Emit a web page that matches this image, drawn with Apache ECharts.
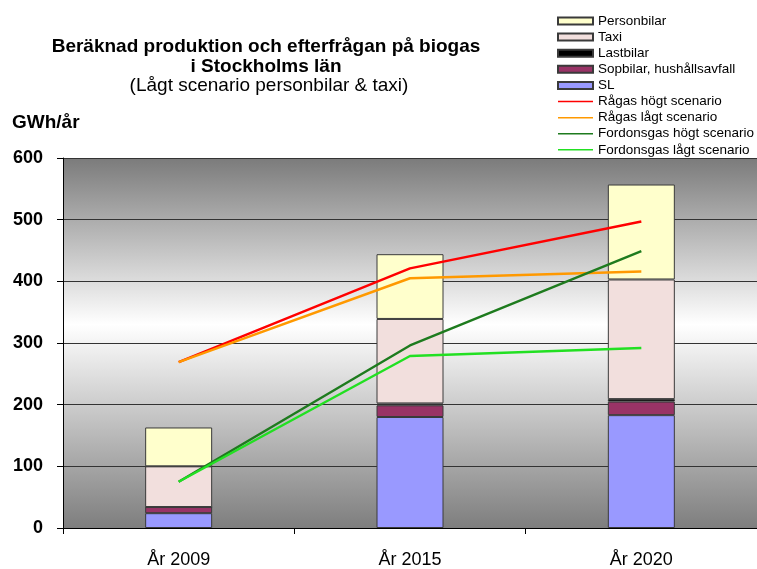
<!DOCTYPE html>
<html>
<head>
<meta charset="utf-8">
<script src="https://cdn.jsdelivr.net/npm/echarts@6/dist/echarts.min.js"></script>
<style>html,body{margin:0;padding:0;background:#fff}#c{width:757px;height:569px}</style>
</head>
<body>
<div id="c"></div>
<script>
var categories = ['År 2009', 'År 2015', 'År 2020'];
var yTicks = [0, 100, 200, 300, 400, 500, 600];

var sl = [24, 180, 183];
var sopbilar = [10, 19, 22];
var lastbilar = [0, 3, 4];
var taxi = [66, 137, 194];
var personbilar = [63, 105, 154];

var ragasHogt = [269, 421, 497];
var ragasLagt = [269, 405, 416];
var fordonsgasHogt = [75, 296, 449];
var fordonsgasLagt = [75, 279, 292];

var FONT = '"Liberation Sans", Arial, sans-serif';
var LINE_ICON = 'path://M0,0 L0.01,0 L0,0.01 Z M0,2.8 L35,2.8 L35,4.3 L0,4.3 Z M35,7 L34.99,7 L35,6.99 Z';
var chart = echarts.init(document.getElementById('c'), null, {renderer: 'canvas'});

function bar(name, data, color) {
  return {
    name: name, type: 'bar', stack: 'total', data: data,
    barWidth: 67,
    itemStyle: {color: color, borderColor: '#3a3a3a', borderWidth: 1},
    emphasis: {disabled: true}
  };
}
function line(name, data, color) {
  return {
    name: name, type: 'line', data: data, symbol: 'none',
    lineStyle: {color: color, width: 2.4},
    itemStyle: {color: color},
    z: 5, emphasis: {disabled: true}
  };
}

var barNames = ['Personbilar', 'Taxi', 'Lastbilar', 'Sopbilar, hushållsavfall', 'SL'];
var lineNames = ['Rågas högt scenario', 'Rågas lågt scenario', 'Fordonsgas högt scenario', 'Fordonsgas lågt scenario'];
var legendData = barNames.map(function (n) { return {name: n, icon: 'rect'}; })
  .concat(lineNames.map(function (n) { return {name: n, icon: LINE_ICON}; }));

chart.setOption({
  animation: false,
  backgroundColor: '#fff',
  title: [
    {text: 'Beräknad produktion och efterfrågan på biogas\ni Stockholms län', left: 266, top: 37, textAlign: 'center', padding: 0,
     textStyle: {fontFamily: FONT, fontSize: 19, fontWeight: 'bold', color: '#000', lineHeight: 20, align: 'center'}},
    {text: '(Lågt scenario personbilar & taxi)', left: 269, top: 76, textAlign: 'center', padding: 0,
     textStyle: {fontFamily: FONT, fontSize: 19, fontWeight: 'normal', color: '#000', lineHeight: 20}},
    {text: 'GWh/år', left: 12, top: 113, padding: 0,
     textStyle: {fontFamily: FONT, fontSize: 19, fontWeight: 'bold', color: '#000', lineHeight: 20}}
  ],
  legend: {
    orient: 'vertical', left: 557, top: 14, padding: 0,
    itemWidth: 35, itemHeight: 7, itemGap: 2.1,
    textStyle: {fontFamily: FONT, fontSize: 13.5, color: '#000', lineHeight: 14, padding: 0},
    data: legendData
  },
  grid: {
    left: 63, top: 158, right: 0, bottom: 41, show: true, borderWidth: 0,
    backgroundColor: {type: 'linear', x: 0, y: 0, x2: 0, y2: 1,
      colorStops: [{offset: 0, color: '#7b7b7b'}, {offset: 0.45, color: '#ffffff'}, {offset: 1, color: '#7e7e7e'}]}
  },
  xAxis: {
    type: 'category', data: categories,
    axisLine: {lineStyle: {color: '#000', width: 1}},
    axisTick: {show: true, alignWithLabel: false, length: 6, lineStyle: {color: '#000'}},
    axisLabel: {fontFamily: FONT, fontSize: 18, color: '#000', margin: 23}
  },
  yAxis: {
    type: 'value', min: yTicks[0], max: yTicks[yTicks.length - 1], interval: 100,
    axisLine: {show: true, lineStyle: {color: '#000', width: 1}},
    axisTick: {show: true, length: 6, lineStyle: {color: '#000'}},
    axisLabel: {fontFamily: FONT, fontSize: 18, fontWeight: 'bold', color: '#000', margin: 20},
    splitLine: {show: true, lineStyle: {color: '#333', width: 1}}
  },
  series: [
    bar('SL', sl, '#9999FF'),
    bar('Sopbilar, hushållsavfall', sopbilar, '#993366'),
    bar('Lastbilar', lastbilar, '#000000'),
    bar('Taxi', taxi, '#F2DFDD'),
    bar('Personbilar', personbilar, '#FFFFCC'),
    line('Rågas högt scenario', ragasHogt, '#FF0000'),
    line('Rågas lågt scenario', ragasLagt, '#FF9900'),
    line('Fordonsgas högt scenario', fordonsgasHogt, '#1E7B1E'),
    line('Fordonsgas lågt scenario', fordonsgasLagt, '#22E022')
  ]
});
</script>
</body>
</html>
